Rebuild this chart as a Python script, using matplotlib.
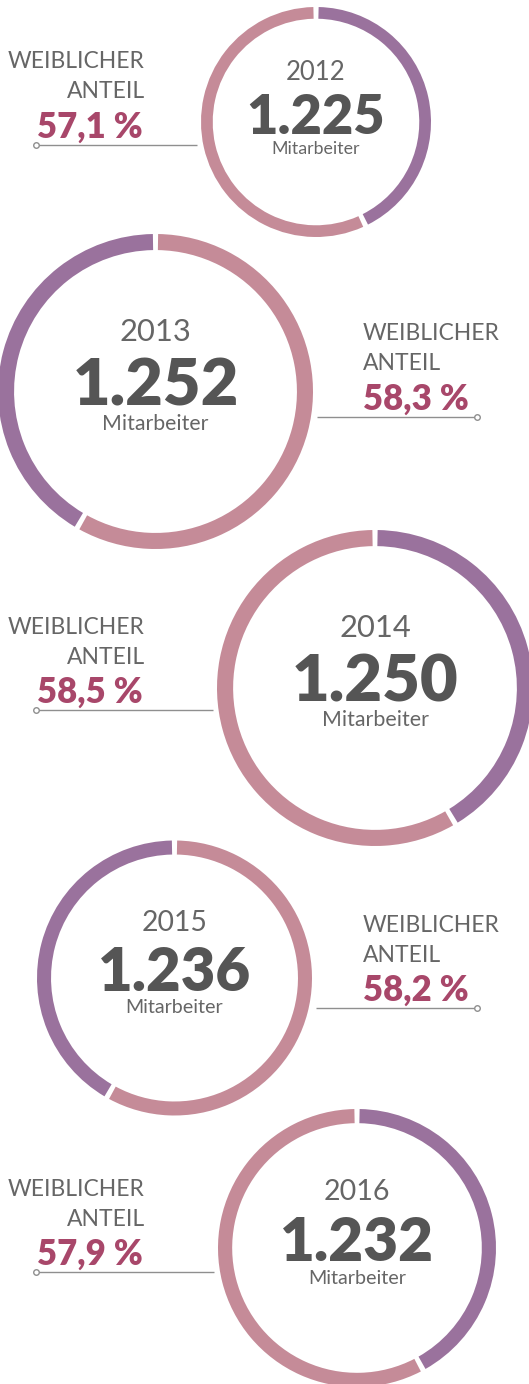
import matplotlib
matplotlib.use("Agg")
import matplotlib.pyplot as plt
from matplotlib.patches import Wedge
import numpy as np

# ---- data ----
years = ["2012", "2013", "2014", "2015", "2016"]
employees = ["1.225", "1.252", "1.250", "1.236", "1.232"]
female_share = [57.1, 58.3, 58.5, 58.2, 57.9]
female_labels = ["57,1 %", "58,3 %", "58,5 %", "58,2 %", "57,9 %"]
label_title = ["WEIBLICHER", "ANTEIL"]
sub_label = "Mitarbeiter"

# ---- layout (pixel coords, origin top-left) ----
W, H = 529, 1384
centers = [(316, 122), (155.5, 391.5), (375, 688), (174.5, 978), (357, 1248)]
radii = [115, 157.5, 158, 137.5, 139]
purple_right = [True, False, True, False, True]
label_line_y = [145, 417, 710, 1008, 1272]

PURPLE = "#9a729d"
PINK = "#c58b98"
PCT = "#a8476a"
GRAY = "#555555"
LGRAY = "#666666"
LINE = "#8f8f8f"

plt.rcParams['font.family'] = ['Lato', 'DejaVu Sans']

fig = plt.figure(figsize=(W / 100, H / 100), dpi=100)
ax = fig.add_axes([0, 0, 1, 1])
ax.set_xlim(0, W)
ax.set_ylim(0, H)
ax.set_aspect('equal')
ax.axis('off')


def Y(y):
    return H - y


for i in range(len(years)):
    cx, cyp = centers[i]
    cy = Y(cyp)
    R = radii[i]
    w = 0.102 * R
    gap = np.degrees(5.0 / (R - w / 2))
    male_deg = (100 - female_share[i]) * 3.6
    if purple_right[i]:
        p1, p2 = 90 - male_deg + gap / 2, 90 - gap / 2
        k1, k2 = 90 + gap / 2, 90 - male_deg + 360 - gap / 2
    else:
        p1, p2 = 90 + gap / 2, 90 + male_deg - gap / 2
        k1, k2 = 90 + male_deg + gap / 2, 450 - gap / 2
    ax.add_patch(Wedge((cx, cy), R, p1, p2, width=w, facecolor=PURPLE, edgecolor='none'))
    ax.add_patch(Wedge((cx, cy), R, k1, k2, width=w, facecolor=PINK, edgecolor='none'))

    s = (R + 98) / 213.0
    ax.text(cx, Y(cyp - 50 * s), years[i], ha='center', va='center',
            fontsize=18.5 * s, color=LGRAY, fontweight='normal')
    ax.text(cx, Y(cyp - 4 * s), employees[i], ha='center', va='center',
            fontsize=39 * s, color=GRAY, fontweight='heavy')
    ax.text(cx, Y(cyp + 27 * s), sub_label, ha='center', va='center',
            fontsize=12.8 * s, color=LGRAY)

    ly = label_line_y[i]
    if purple_right[i]:
        tx, ha = 145, 'right'
        x0, x1 = 36, cx - R - 4
        mx = x0
    else:
        tx, ha = 363, 'left'
        x0, x1 = cx + R + 4, 477
        mx = x1
    ax.text(tx, Y(ly - 83), label_title[0], ha=ha, va='center',
            fontsize=16.5, color=LGRAY, fontweight='normal')
    ax.text(tx, Y(ly - 53), label_title[1], ha=ha, va='center',
            fontsize=16.5, color=LGRAY, fontweight='normal')
    ax.text(tx - (2 if ha == 'right' else 0), Y(ly - 18), female_labels[i], ha=ha,
            va='center', fontsize=25, color=PCT, fontweight='heavy')
    ax.plot([x0, x1], [Y(ly), Y(ly)], color=LINE, lw=1.0, solid_capstyle='butt')
    ax.plot([mx], [Y(ly)], marker='o', ms=4, mfc='white', mec=LINE, mew=1.0)

fig.savefig("out.png", dpi=100)
